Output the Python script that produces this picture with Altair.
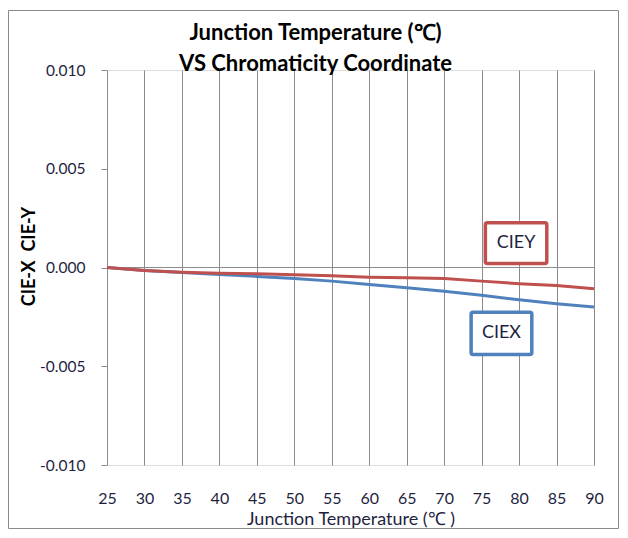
import altair as alt
import pandas as pd

temps = [25, 30, 35, 40, 45, 50, 55, 60, 65, 70, 75, 80, 85, 90]
ciex = [0.0, -0.00015, -0.00025, -0.00035, -0.00045, -0.00056, -0.00069,
        -0.00086, -0.00103, -0.0012, -0.00141, -0.00163, -0.00183, -0.002]
ciey = [0.0, -0.00015, -0.00024, -0.00029, -0.00032, -0.00037, -0.00042,
        -0.00049, -0.00052, -0.00056, -0.00069, -0.00082, -0.00091, -0.00108]

series_names = ["CIEX", "CIEY"]
series_colors = ["#4F81BD", "#C0504D"]

# annotation boxes (data coordinates)
box_labels = ["CIEY", "CIEX"]
box_x1 = [75.5, 73.6]
box_x2 = [83.7, 81.7]
box_y1 = [0.0002, -0.0044]
box_y2 = [0.00227, -0.00227]

FONT = "Lato"
GRID = "#8C8C8C"
W, H = 487, 395

rows = []
for t, x, y in zip(temps, ciex, ciey):
    rows.append({"t": t, "v": x, "s": "CIEX"})
    rows.append({"t": t, "v": y, "s": "CIEY"})
df = pd.DataFrame(rows)

boxes = pd.DataFrame({
    "s": box_labels, "x1": box_x1, "x2": box_x2, "y1": box_y1, "y2": box_y2,
})
boxes["xc"] = (boxes["x1"] + boxes["x2"]) / 2
boxes["yc"] = (boxes["y1"] + boxes["y2"]) / 2

xscale = alt.Scale(domain=[25, 90], nice=False, zero=False)
yscale = alt.Scale(domain=[-0.01, 0.01], nice=False)
color = alt.Scale(domain=series_names, range=series_colors)

frame = alt.Chart(pd.DataFrame({"a": [0]})).mark_rect(
    fill=None, stroke="#8A8A8A", strokeWidth=1, clip=False
).encode(
    x=alt.value(-98.5), x2=alt.value(W + 24.5), y=alt.value(-59.5), y2=alt.value(H + 63.5)
)

zero = alt.Chart(pd.DataFrame({"a": [0]})).mark_rule(color=GRID, strokeWidth=1).encode(
    y=alt.datum(0, scale=yscale)
)

lines = alt.Chart(df).mark_line(strokeWidth=3).encode(
    x=alt.X("t:Q", scale=xscale,
            axis=alt.Axis(values=temps, tickCount=20, grid=True, gridColor=GRID,
                          ticks=False, domain=False, labelPadding=25,
                          labelFontSize=16, labelOverlap=False, labelFlush=False,
                          labelColor="#1F1F3F", labelFont=FONT,
                          title="Junction Temperature (℃ )", titleFont=FONT,
                          titleFontSize=18, titleFontWeight="normal",
                          titleColor="#1F1F3F", titlePadding=4)),
    y=alt.Y("v:Q", scale=yscale,
            axis=alt.Axis(values=[-0.01, -0.005, 0, 0.005, 0.01],
                          labelExpr="replace(format(datum.value, '.3f'), '\u2212', '-')",
                          grid=False, domain=False, ticks=True, tickSize=6,
                          tickColor=GRID, labelPadding=16, labelFontSize=15.5,
                          labelColor="#1F1F3F", labelFont=FONT,
                          title="CIE-X\u00a0\u00a0CIE-Y", titleFont=FONT, titleFontSize=18,
                          titleFontWeight="bold", titleColor="black",
                          titleX=-78, titleY=186, titleAngle=270,
                          titleAlign="center", titleBaseline="middle")),
    color=alt.Color("s:N", scale=color, legend=None),
    detail="s:N",
)

rects = alt.Chart(boxes).mark_rect(fill="white", strokeWidth=3.5, cornerRadius=2).encode(
    x=alt.X("x1:Q", scale=xscale), x2="x2:Q",
    y=alt.Y("y1:Q", scale=yscale), y2="y2:Q",
    stroke=alt.Color("s:N", scale=color, legend=None),
)

texts = alt.Chart(boxes).mark_text(font=FONT, fontSize=18, color="#1F1F3F").encode(
    x=alt.X("xc:Q", scale=xscale), y=alt.Y("yc:Q", scale=yscale), text="s:N"
)

chart = alt.layer(frame, zero, lines, rects, texts).properties(
    width=W, height=H,
    title=alt.TitleParams(
        ["Junction Temperature (℃)", "VS Chromaticity Coordinate"],
        fontSize=22, fontWeight="bold", font=FONT, lineHeight=31,
        anchor="middle", dx=-35, dy=64, offset=-2, color="black",
    ),
    padding={"left": 99, "top": 62, "right": 26, "bottom": 65},
    autosize=alt.AutoSizeParams(type="none"),
).configure_view(stroke=GRID, strokeWidth=1).configure(background="white")

chart.save("out.html", embed_options={"renderer": "svg", "actions": False})
